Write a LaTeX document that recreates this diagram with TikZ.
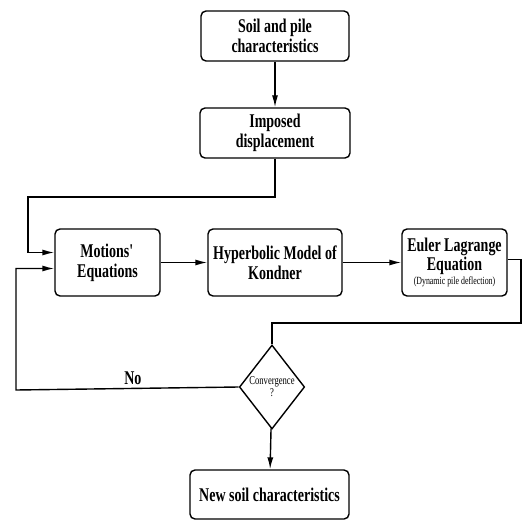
\documentclass[tikz,border=0pt]{standalone}
\usepackage{fontspec}
\setmainfont{Liberation Serif}[FakeStretch=0.72]
\usepackage{tikz}
\usetikzlibrary{shapes.geometric,arrows.meta}

\begin{document}
\begin{tikzpicture}[x=1bp, y=-1bp, line width=1.4bp, >={Latex[length=12bp,width=6bp]},
	stepbox/.style={draw, rectangle, rounded corners=5bp, align=center, inner sep=0pt,
		font=\fontsize{19.5}{20}\selectfont\bfseries}]
	\useasboundingbox (0,0) rectangle (525,520);
	\node[stepbox, minimum width=148bp, minimum height=50bp] (S) at (275,36)
	{Soil and pile\\characteristics};%
	\node[stepbox, minimum width=150bp, minimum height=50bp] (D) at (275,133)
	{Imposed\\displacement};%
	\node[stepbox, minimum width=105bp, minimum height=67bp] (M) at (107.5,262.5)
	{Motions\textquotesingle\\Equations};
	\node[stepbox, minimum width=134bp, minimum height=67bp] (H) at (275,262.5)
	{Hyperbolic Model of\\Kondner};
	\node[stepbox, minimum width=105bp, minimum height=67bp, font=\fontsize{19.5}{17}\selectfont\bfseries] (E) at (454.5,262.5)
	{Euler Lagrange\\Equation\\[-3bp]{\fontsize{11}{11}\selectfont\mdseries (Dynamic pile deflection)}};
	\node[draw, diamond, minimum width=65bp, minimum height=84bp, inner sep=0pt, align=center,
		font=\fontsize{12}{12}\selectfont] (C) at (272,387)
	{Convergence\\?};
	\node[stepbox, minimum width=159bp, minimum height=49bp] (N) at (269.5,494.5)
	{New soil characteristics};

	\coordinate (k1) at (28,197);
	\coordinate (k2) at (521,323);
	\coordinate (k3) at (16,390);

	\draw[->] (S) -- (D);
	\draw[->] (D.south) |- (k1) |- ([yshift=10bp]M.west);
	\draw[->] (M) -- (H);
	\draw[->] (H) -- (E);
	\draw ([yshift=3bp]E.east) -| (k2) -| (C.north);
	\draw[->] (C.west) -- node[pos=0.475, above, font=\fontsize{19.5}{20}\selectfont\bfseries] {No} (k3) |- ([yshift=-6bp]M.west);
	\draw[->] (C) -- (N);
\end{tikzpicture}
\end{document}
